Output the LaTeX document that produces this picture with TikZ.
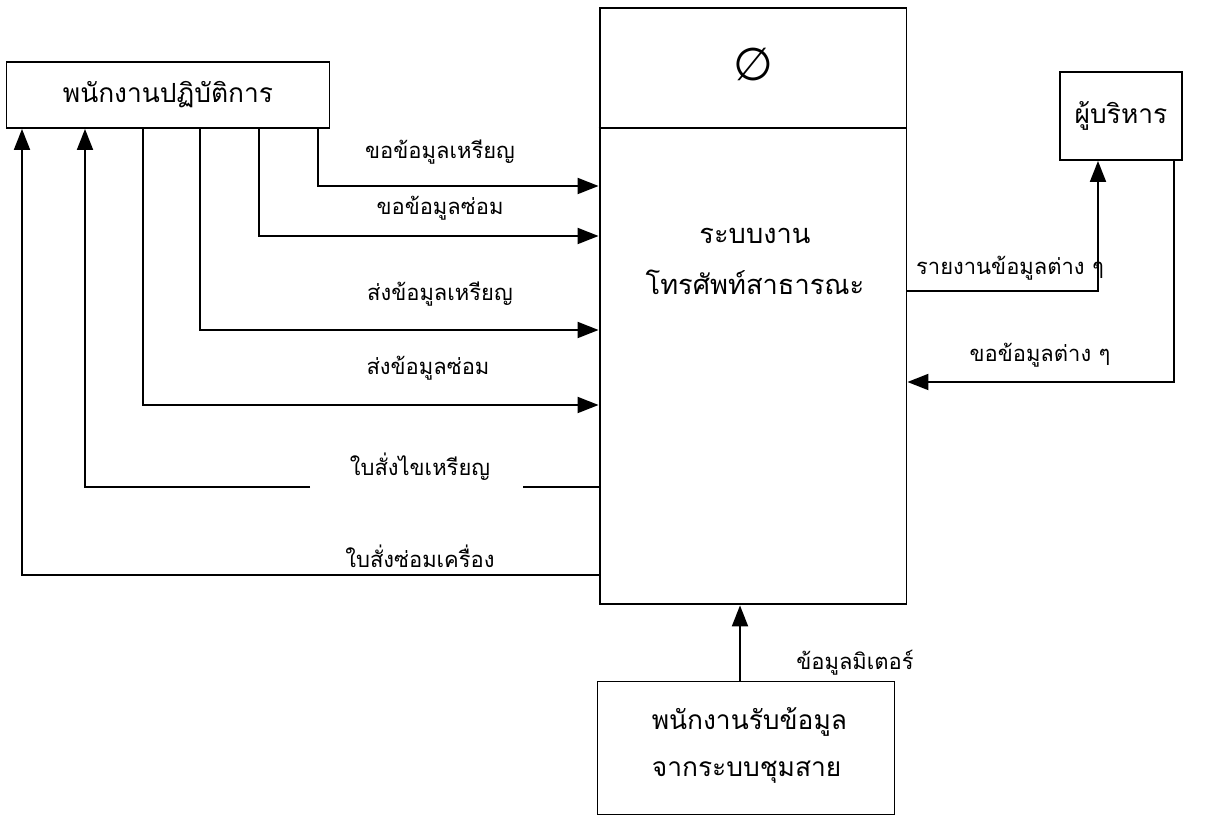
\documentclass[tikz,border=0pt]{standalone}
\usepackage{fontspec}
\newfontfamily\thaifont[Script=Thai]{Loma}
\newfontfamily\symbfont{DejaVu Sans}
\usetikzlibrary{arrows.meta}

\begin{document}
\begin{tikzpicture}[x=0.02cm,y=-0.02cm,line width=1.1pt,
    box/.style={draw,inner sep=0pt,font=\thaifont\fontsize{15}{18}\selectfont},
    flow/.style={-{Triangle[length=0.42cm,width=0.32cm]}},
    lbl/.style={inner sep=1pt,font=\thaifont\fontsize{12.5}{15}\selectfont}]
  \useasboundingbox (0,0) rectangle (1205,820);

  % the four boxes
  \node[box,minimum width=6.46cm,minimum height=1.32cm] (ops) at (168,95) {พนักงานปฏิบัติการ};
  \node[box,minimum width=6.14cm,minimum height=11.94cm] (sys) at (753,306) {};
  \node[box,minimum width=2.44cm,minimum height=1.76cm] (mgr) at (1121,116) {ผู้บริหาร};
  \node[box,minimum width=5.94cm,minimum height=2.66cm] (reader) at (746,748) {};

  \draw (sys.west |- 0,128) -- (sys.east |- 0,128);
  \node (nul) at (753,65) {\symbfont\fontsize{26}{28}\selectfont ∅};
  \node[font=\thaifont\fontsize{15.5}{18}\selectfont] (sys1) at (755,236) {ระบบงาน};
  \node[font=\thaifont\fontsize{15.5}{18}\selectfont] (sys2) at (755,282) {โทรศัพท์สาธารณะ};
  \node[anchor=west,font=\thaifont\fontsize{15}{18}\selectfont] (rd1) at (645,722) {พนักงานรับข้อมูล};
  \node[anchor=west,font=\thaifont\fontsize{15}{18}\selectfont] (rd2) at (645,772) {จากระบบชุมสาย};

  % ops -> system
  \draw[flow] (318,0 |- ops.south) |- (sys.west |- 0,186);
  \draw[flow] (259,0 |- ops.south) |- (sys.west |- 0,236);
  \draw[flow] (200,0 |- ops.south) |- (sys.west |- 0,330);
  \draw[flow] (143,0 |- ops.south) |- (sys.west |- 0,405);
  \node[lbl] (l1) at (440,152) {ขอข้อมูลเหรียญ};
  \node[lbl] (l2) at (440,208) {ขอข้อมูลซ่อม};
  \node[lbl] (l3) at (440,294) {ส่งข้อมูลเหรียญ};
  \node[lbl] (l4) at (428,368) {ส่งข้อมูลซ่อม};

  % system -> ops
  \draw (sys.west |- 0,487) -- (523,487);
  \draw[flow] (310,487) -| (85,0 |- ops.south);
  \draw[flow] (sys.west |- 0,575) -| (22,0 |- ops.south);
  \node[lbl] (l5) at (420,467) {ใบสั่งไขเหรียญ};
  \node[lbl] (l6) at (420,556) {ใบสั่งซ่อมเครื่อง};

  % system <-> mgr
  \draw[flow] (sys.east |- 0,291) -| (1098,0 |- mgr.south);
  \draw[flow] (1174,0 |- mgr.south) |- (sys.east |- 0,382);
  \node[lbl] (l7) at (1010,268) {รายงานข้อมูลต่าง ๆ};
  \node[lbl] (l8) at (1040,355) {ขอข้อมูลต่าง ๆ};

  % reader -> system
  \draw[flow] (740,0 |- reader.north) -- (740,0 |- sys.south);
  \node[lbl] (l9) at (855,663) {ข้อมูลมิเตอร์};

\end{tikzpicture}
\end{document}
